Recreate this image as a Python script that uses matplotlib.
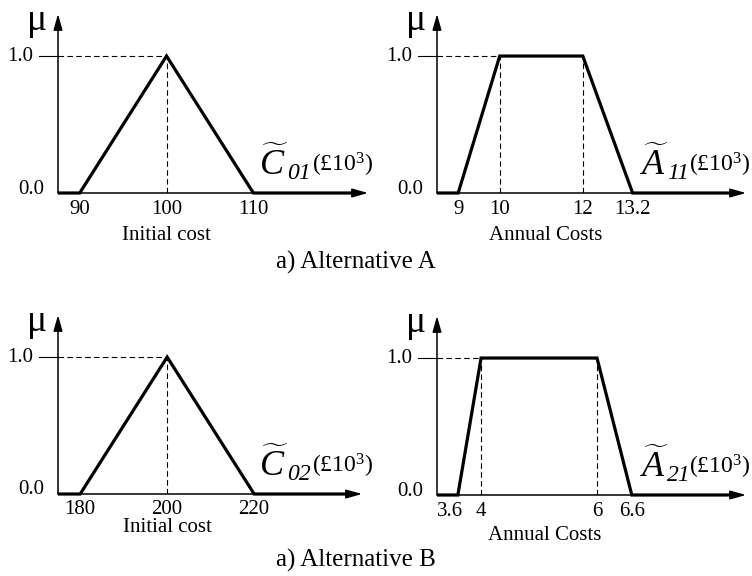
import matplotlib
matplotlib.use("Agg")
import matplotlib.pyplot as plt

plt.rcParams["font.family"] = "Liberation Serif"
plt.rcParams["mathtext.fontset"] = "custom"
plt.rcParams["mathtext.rm"] = "Liberation Serif"
plt.rcParams["mathtext.it"] = "Liberation Serif:italic"

W, H = 752, 576
PT = 0.72  # points per pixel at 100 dpi

# fuzzy numbers (a, b, c, d); a triangle has b == c
initial_cost_a = [90, 100, 100, 110]
annual_cost_a = [9, 10, 12, 13.2]
initial_cost_b = [180, 200, 200, 220]
annual_cost_b = [3.6, 4, 6, 6.6]
membership = [0.0, 1.0, 1.0, 0.0]

tick_labels_ca = ["90", "100", "110"]
tick_labels_aa = ["9", "10", "12", "13.2"]
tick_labels_cb = ["180", "200", "220"]
tick_labels_ab = ["3.6", "4", "6", "6.6"]

letters = [r"$\widetilde{C}$", r"$\widetilde{A}$", r"$\widetilde{C}$", r"$\widetilde{A}$"]
indices = ["01", "11", "02", "21"]
unit = "(£10$^{3}$)"
xlabels = ["Initial cost", "Annual Costs", "Initial cost", "Annual Costs"]
captions = ["a) Alternative A", "a) Alternative B"]

# box in pixels (left, right, top, bottom), x limits, left edges of the
# letter / index / unit, x label offset below the axis
panels = [
    dict(fuzzy=initial_cost_a, ticks=tick_labels_ca, box=(58, 368, 14, 193),
         xlim=(87.5, 123.2), name_x=(259, 287, 312), xl=42),
    dict(fuzzy=annual_cost_a, ticks=tick_labels_aa, box=(437, 746, 14, 193),
         xlim=(8.49, 15.93), name_x=(640, 667, 689), xl=43),
    dict(fuzzy=initial_cost_b, ticks=tick_labels_cb, box=(58, 362, 315, 494),
         xlim=(174.9, 244.8), name_x=(259, 287, 312), xl=34),
    dict(fuzzy=annual_cost_b, ticks=tick_labels_ab, box=(437, 746, 316, 495),
         xlim=(3.24, 8.57), name_x=(640, 667, 689), xl=41),
]


def fig_xy(x, y):
    return x / W, 1 - y / H


fig = plt.figure(figsize=(W / 100, H / 100), dpi=100)

for i, p in enumerate(panels):
    left, right, top, bottom = p["box"]
    ax = fig.add_axes([left / W, 1 - bottom / H, (right - left) / W, (bottom - top) / H])
    ax.set_xlim(*p["xlim"])
    ax.set_ylim(0, 1.307)
    ax.axis("off")

    a, b, c, d = p["fuzzy"]
    x0, x1 = p["xlim"]
    x_end = x0 + (x1 - x0) * 0.95

    # guide lines to the core of the fuzzy number
    dash = dict(color="black", lw=0.8, dashes=(5, 3))
    ax.plot([x0, b], [1, 1], **dash)
    for xv in sorted(set([b, c])):
        ax.plot([xv, xv], [0, 1], **dash)
    ax.plot([-19 / (right - left), 0], [1, 1], color="black", lw=0.8,
            transform=ax.get_yaxis_transform(), clip_on=False)

    # axes with arrow heads
    arrow = dict(arrowstyle="-|>,head_length=0.6,head_width=0.17", lw=1.1,
                 color="black", mutation_scale=16, shrinkA=0, shrinkB=0)
    ax.annotate("", xy=(1, 0), xytext=(0, 0), xycoords="axes fraction",
                arrowprops=arrow)
    ax.annotate("", xy=(0, 1), xytext=(0, 0), xycoords="axes fraction",
                arrowprops=arrow)

    # membership function
    ax.plot([x0] + p["fuzzy"] + [x_end], [0] + membership + [0], color="black",
            lw=2.3, solid_joinstyle="miter", solid_capstyle="butt", clip_on=False)

    # labels on the axes
    ax.annotate("1.0", xy=(0, 1), xycoords=ax.get_yaxis_transform(),
                xytext=(-25 * PT, 0), textcoords="offset points",
                ha="right", va="center", fontsize=15)
    ax.annotate("0.0", xy=(0, 0), xycoords=ax.get_yaxis_transform(),
                xytext=(-14 * PT, 4 * PT), textcoords="offset points",
                ha="right", va="center", fontsize=15)
    ax.annotate("μ", xy=(0, 1), xycoords="axes fraction",
                xytext=(-21 * PT, -7 * PT), textcoords="offset points",
                ha="center", va="center", fontsize=27)

    ticks = sorted(set(p["fuzzy"]))
    for k, (xv, lab) in enumerate(zip(ticks, p["ticks"])):
        # pull the first label left when the next tick is close by
        close = k + 1 < len(ticks) and (ticks[k + 1] - xv) < 0.1 * (x1 - x0)
        ax.annotate(lab, xy=(xv, 0), xytext=(-8 * PT if close else 0, -16 * PT),
                    textcoords="offset points", ha="center", va="center",
                    fontsize=15)
    ax.annotate(xlabels[i], xy=((a + d) / 2, 0), xytext=(0, -p["xl"] * PT),
                textcoords="offset points", ha="center", va="center",
                fontsize=15)

    # name of the fuzzy number next to the horizontal axis
    lx, ix, ux = p["name_x"]
    fig.text(*fig_xy(lx, bottom - 18), letters[i], fontsize=26,
             ha="left", va="baseline")
    fig.text(*fig_xy(ix, bottom - 14), indices[i], fontsize=17,
             style="italic", ha="left", va="baseline")
    fig.text(*fig_xy(ux, bottom - 21), unit, fontsize=17,
             ha="left", va="baseline")

fig.text(*fig_xy(356, 262), captions[0], fontsize=18, ha="center", va="center")
fig.text(*fig_xy(356, 560), captions[1], fontsize=18, ha="center", va="center")

fig.savefig("out.png", dpi=100, facecolor="white")
